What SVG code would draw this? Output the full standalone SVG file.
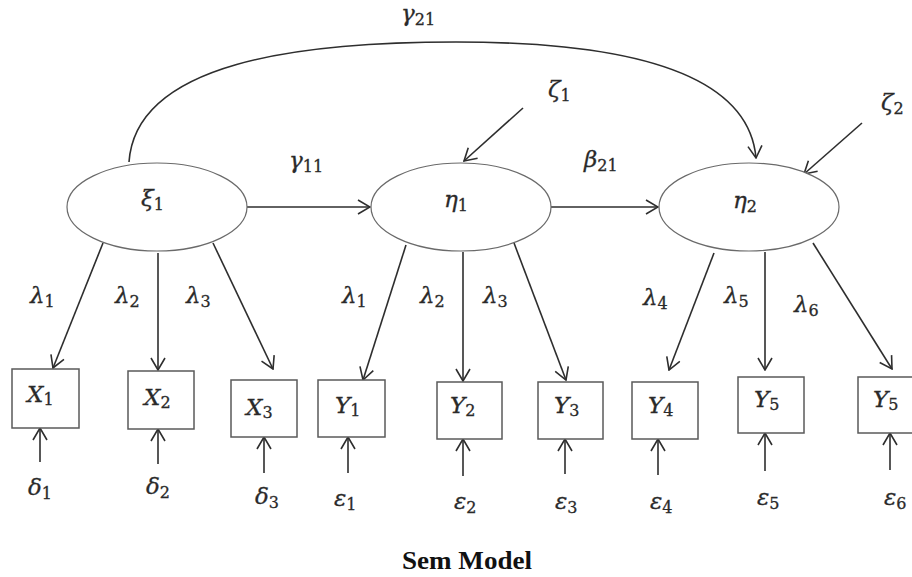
<svg xmlns="http://www.w3.org/2000/svg" width="912" height="577" viewBox="0 0 912 577">
  <style>
    .bg { fill: #ffffff; }
    .latent { fill: #ffffff; stroke: #6a6a6a; stroke-width: 1.2; }
    .obs { fill: #ffffff; stroke: #5a5a5a; stroke-width: 1.5; }
    .edge { fill: none; stroke: #2e2e2e; stroke-width: 1.6; marker-end: url(#head); }
    .m { font-family: "DejaVu Serif", "Liberation Serif", serif; font-style: italic; font-size: 23px; fill: #2a2a2a; stroke: #2a2a2a; stroke-width: 0.3; }
    .m .s { font-style: normal; font-size: 16px; }
    .title { font-family: "Liberation Serif", "Times New Roman", serif; font-weight: bold; font-size: 25px; fill: #111111; }
  </style>
  <defs>
    <marker id="head" viewBox="0 0 14 16" refX="13" refY="8" markerWidth="14" markerHeight="16" markerUnits="userSpaceOnUse" orient="auto">
      <polyline points="1,1 13,8 1,15" fill="none" stroke="#2e2e2e" stroke-width="1.6"/>
    </marker>
  </defs>
  <rect class="bg" x="0" y="0" width="912" height="577"/>

  <!-- connectors -->
  <g id="connectors">
    <path class="edge" d="M129,162 C136,62 300,42 456,42 C610,42 748,66 756,158"/>
    <line class="edge" x1="247" y1="207" x2="370" y2="207"/>
    <line class="edge" x1="551" y1="207" x2="658" y2="207"/>
    <line class="edge" x1="523" y1="108" x2="464" y2="161"/>
    <line class="edge" x1="862" y1="123" x2="804" y2="174"/>
    <!-- loadings of xi1 -->
    <line class="edge" x1="103" y1="243" x2="53" y2="368"/>
    <line class="edge" x1="158" y1="253" x2="158" y2="370"/>
    <line class="edge" x1="213" y1="243" x2="273" y2="369"/>
    <!-- loadings of eta1 -->
    <line class="edge" x1="406" y1="245" x2="363" y2="380"/>
    <line class="edge" x1="463" y1="252" x2="463" y2="381"/>
    <line class="edge" x1="514" y1="243" x2="566" y2="380"/>
    <!-- loadings of eta2 -->
    <line class="edge" x1="714" y1="253" x2="669" y2="370"/>
    <line class="edge" x1="765" y1="252" x2="765" y2="370"/>
    <line class="edge" x1="813" y1="243" x2="892" y2="369"/>
    <!-- measurement errors -->
    <line class="edge" x1="40" y1="462" x2="40" y2="428"/>
    <line class="edge" x1="158" y1="464" x2="158" y2="429"/>
    <line class="edge" x1="264" y1="473" x2="264" y2="437"/>
    <line class="edge" x1="348" y1="473" x2="348" y2="437"/>
    <line class="edge" x1="463" y1="476" x2="463" y2="439"/>
    <line class="edge" x1="565" y1="474" x2="565" y2="439"/>
    <line class="edge" x1="658" y1="475" x2="658" y2="439"/>
    <line class="edge" x1="765" y1="471" x2="765" y2="433"/>
    <line class="edge" x1="890" y1="470" x2="890" y2="433"/>
  </g>

  <!-- path coefficient labels -->
  <g id="coefficients">
    <text class="m" x="401" y="21">γ<tspan class="s" dy="4">21</tspan></text>
    <text class="m" x="289" y="168">γ<tspan class="s" dy="4">11</tspan></text>
    <text class="m" x="584" y="167">β<tspan class="s" dy="4">21</tspan></text>
    <text class="m" x="548" y="97">ζ<tspan class="s" dy="4">1</tspan></text>
    <text class="m" x="881" y="110">ζ<tspan class="s" dy="4">2</tspan></text>
    <text class="m" x="30" y="303">λ<tspan class="s" dy="4">1</tspan></text>
    <text class="m" x="115" y="303">λ<tspan class="s" dy="4">2</tspan></text>
    <text class="m" x="186" y="303">λ<tspan class="s" dy="4">3</tspan></text>
    <text class="m" x="342" y="303">λ<tspan class="s" dy="4">1</tspan></text>
    <text class="m" x="420" y="303">λ<tspan class="s" dy="4">2</tspan></text>
    <text class="m" x="483" y="303">λ<tspan class="s" dy="4">3</tspan></text>
    <text class="m" x="643" y="305">λ<tspan class="s" dy="4">4</tspan></text>
    <text class="m" x="724" y="303">λ<tspan class="s" dy="4">5</tspan></text>
    <text class="m" x="794" y="312">λ<tspan class="s" dy="4">6</tspan></text>
  </g>

  <!-- latent variables -->
  <g id="xi1">
    <ellipse class="latent" cx="157" cy="207" rx="90" ry="44"/>
    <text class="m" x="141" y="206">ξ<tspan class="s" dy="4">1</tspan></text>
  </g>
  <g id="eta1">
    <ellipse class="latent" cx="461" cy="207" rx="90" ry="44"/>
    <text class="m" x="444" y="207">η<tspan class="s" dy="4">1</tspan></text>
  </g>
  <g id="eta2">
    <ellipse class="latent" cx="749" cy="207" rx="90" ry="44"/>
    <text class="m" x="733" y="208">η<tspan class="s" dy="4">2</tspan></text>
  </g>

  <!-- observed indicators -->
  <g id="X1">
    <rect class="obs" x="12" y="369" width="67" height="59"/>
    <text class="m" x="27" y="402">X<tspan class="s" dy="3">1</tspan></text>
  </g>
  <g id="X2">
    <rect class="obs" x="128" y="371" width="66" height="58"/>
    <text class="m" x="144" y="405">X<tspan class="s" dy="3">2</tspan></text>
  </g>
  <g id="X3">
    <rect class="obs" x="231" y="380" width="66" height="57"/>
    <text class="m" x="246" y="415">X<tspan class="s" dy="3">3</tspan></text>
  </g>
  <g id="Y1">
    <rect class="obs" x="318" y="380" width="67" height="57"/>
    <text class="m" x="335" y="413">Y<tspan class="s" dy="3">1</tspan></text>
  </g>
  <g id="Y2">
    <rect class="obs" x="437" y="382" width="65" height="57"/>
    <text class="m" x="450" y="413">Y<tspan class="s" dy="3">2</tspan></text>
  </g>
  <g id="Y3">
    <rect class="obs" x="538" y="382" width="65" height="57"/>
    <text class="m" x="554" y="413">Y<tspan class="s" dy="3">3</tspan></text>
  </g>
  <g id="Y4">
    <rect class="obs" x="632" y="382" width="66" height="57"/>
    <text class="m" x="648" y="413">Y<tspan class="s" dy="3">4</tspan></text>
  </g>
  <g id="Y5">
    <rect class="obs" x="738" y="377" width="66" height="56"/>
    <text class="m" x="754" y="407">Y<tspan class="s" dy="3">5</tspan></text>
  </g>
  <g id="Y6">
    <rect class="obs" x="858" y="377" width="66" height="56"/>
    <text class="m" x="873" y="407">Y<tspan class="s" dy="3">5</tspan></text>
  </g>

  <!-- error terms -->
  <g id="errors">
    <text class="m" x="28" y="495">δ<tspan class="s" dy="4">1</tspan></text>
    <text class="m" x="146" y="494">δ<tspan class="s" dy="4">2</tspan></text>
    <text class="m" x="255" y="504">δ<tspan class="s" dy="4">3</tspan></text>
    <text class="m" x="334" y="506">ε<tspan class="s" dy="4">1</tspan></text>
    <text class="m" x="454" y="509">ε<tspan class="s" dy="4">2</tspan></text>
    <text class="m" x="555" y="509">ε<tspan class="s" dy="4">3</tspan></text>
    <text class="m" x="650" y="509">ε<tspan class="s" dy="4">4</tspan></text>
    <text class="m" x="757" y="505">ε<tspan class="s" dy="4">5</tspan></text>
    <text class="m" x="884" y="505">ε<tspan class="s" dy="4">6</tspan></text>
  </g>

  <text class="title" x="402" y="569" textLength="130" lengthAdjust="spacingAndGlyphs">Sem Model</text>
</svg>
